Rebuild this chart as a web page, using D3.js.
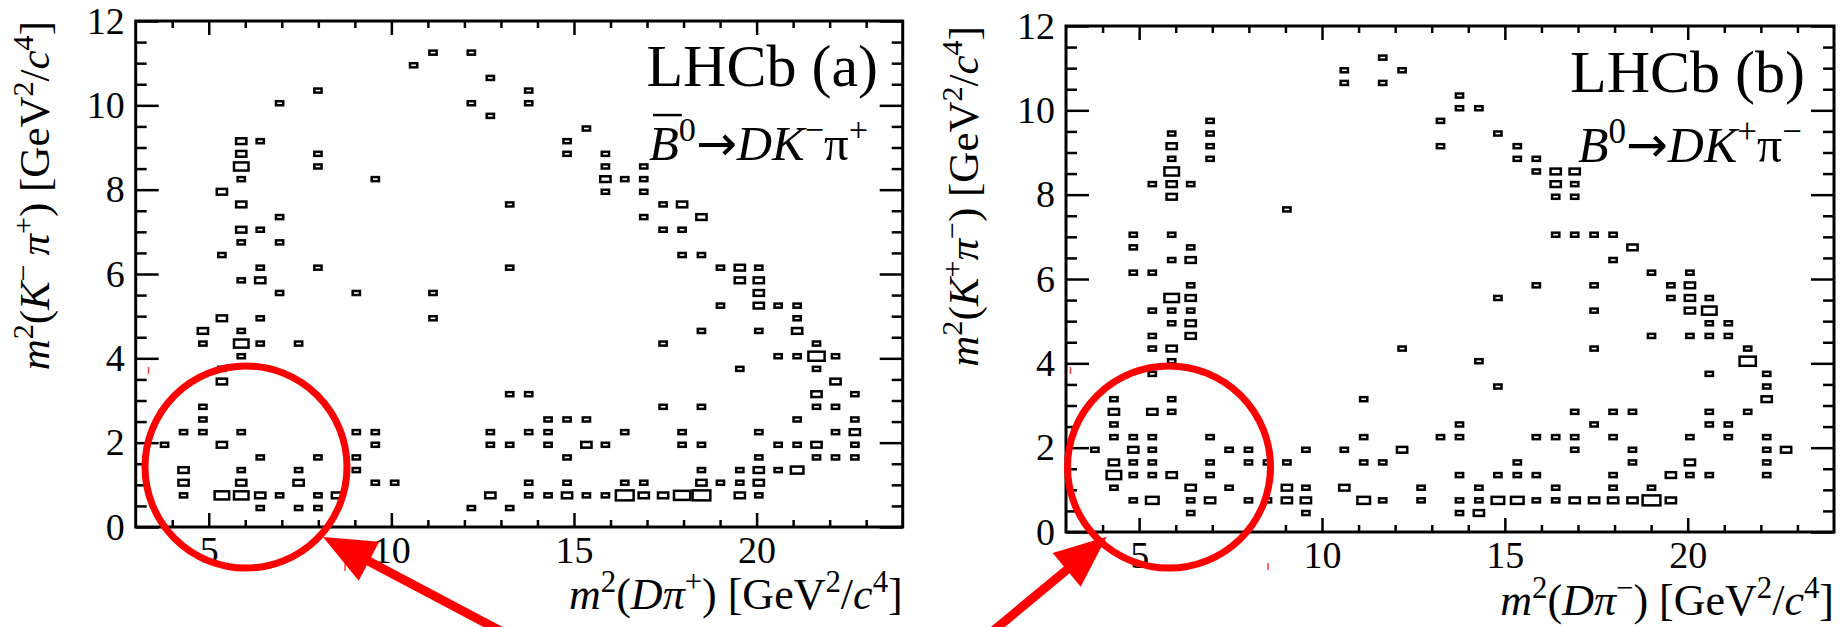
<!DOCTYPE html>
<html>
<head>
<meta charset="utf-8">
<script src="https://cdn.jsdelivr.net/npm/d3@7"></script>
<style>
  body { margin: 0; background: #fff; }
  text { font-family: "Liberation Serif", "Times New Roman", serif; fill: #000; }
</style>
</head>
<body>
<div id="chart"></div>
<script>
// axis ticks
var xTicks = [5, 10, 15, 20];
var yTicks = [0, 2, 4, 6, 8, 10, 12];
var xDomain = [3, 24];
var yDomain = [0, 12];
var binW = 0.525, binH = 0.3;   // 40 x 40 bins
var maxEntries = 7;

// Dalitz plot bins: [m2(Dpi), m2(Kpi), entries]
var binsA = [
  [10.61,10.95,1],[11.14,11.25,1],[12.19,11.25,1],[12.71,10.65,1],[12.19,10.05,1],[12.71,9.75,1],
  [13.76,10.35,1],[13.76,10.05,1],[15.34,9.45,1],[14.81,9.15,1],[14.81,8.85,1],[15.86,8.85,1],
  [15.86,8.55,1],[15.86,8.25,2],[15.86,7.95,1],
  [6.94,10.05,1],[7.99,10.35,1],[5.89,9.15,2],[6.41,9.15,1],[5.89,8.85,2],[5.89,8.55,4],[5.89,8.25,1],
  [5.36,7.95,2],[5.89,7.65,2],[6.94,7.35,1],[5.89,7.05,2],[6.41,7.05,1],[5.89,6.75,1],[6.94,6.75,1],
  [5.36,6.45,1],[6.41,6.15,1],[5.89,5.85,1],[6.41,5.85,2],[6.94,5.55,1],[7.99,8.85,1],[7.99,8.55,1],
  [9.56,8.25,1],[7.99,6.15,1],[9.04,5.55,1],[11.14,5.55,1],[13.24,7.65,1],[13.24,6.15,1],
  [5.36,4.95,2],[6.41,4.95,1],[11.14,4.95,1],[4.84,4.65,2],[5.89,4.65,1],[4.84,4.35,1],[5.89,4.35,4],
  [6.41,4.35,1],[7.46,4.35,1],[5.89,4.05,1],[5.36,3.75,1],[5.36,3.45,2],[13.24,3.15,1],[13.76,3.15,1],
  [4.84,2.85,1],[4.84,2.55,1],[14.29,2.55,1],[14.81,2.55,1],[15.34,2.55,1],
  [4.31,2.25,1],[4.84,2.25,1],[5.89,2.25,1],[9.04,2.25,1],[9.56,2.25,1],[12.71,2.25,1],[13.76,2.25,1],[14.29,2.25,1],
  [3.79,1.95,1],[5.36,1.95,2],[9.56,1.95,1],[12.71,1.95,1],[13.24,1.95,1],[14.29,1.95,1],[15.34,1.95,2],[15.86,1.95,1],
  [6.41,1.65,1],[7.99,1.65,1],[9.04,1.65,1],[14.81,1.65,1],
  [4.31,1.35,2],[5.89,1.35,1],[7.46,1.35,1],[9.04,1.35,1],
  [4.31,1.05,2],[5.89,1.05,2],[7.46,1.05,2],[9.56,1.05,1],[10.09,1.05,1],[13.76,1.05,1],[14.81,1.05,1],
  [4.31,0.75,1],[5.36,0.75,4],[5.89,0.75,4],[6.41,0.75,2],[6.94,0.75,1],[7.99,0.75,1],[8.51,0.75,2],
  [12.71,0.75,2],[13.76,0.75,1],[14.29,0.75,1],[14.81,0.75,2],[15.34,0.75,1],[15.86,0.75,1],
  [6.41,0.45,1],[7.46,0.45,1],[7.99,0.45,1],[12.19,0.45,1],[13.24,0.45,1],
  [16.39,8.25,1],[16.91,8.55,1],[16.91,8.25,1],[16.91,7.95,1],[16.91,7.35,1],[17.44,7.65,1],[17.96,7.65,2],
  [18.49,7.35,2],[17.44,7.05,1],[17.96,7.05,1],[17.96,6.45,1],[18.49,6.45,1],[19.01,6.15,1],[19.54,6.15,2],
  [20.06,6.15,1],[19.54,5.85,2],[20.06,5.85,2],[20.06,5.55,2],[19.01,5.25,1],[20.06,5.25,2],[20.59,5.25,1],
  [21.11,5.25,1],[21.11,4.95,1],[21.11,4.65,2],[18.49,4.65,1],[20.06,4.65,1],[17.44,4.35,1],[21.64,4.35,1],
  [20.59,4.05,1],[21.11,4.05,1],[21.64,4.05,5],[22.16,4.05,1],[19.54,3.75,1],[21.64,3.75,1],[22.16,3.45,2],
  [21.64,3.15,2],[22.69,3.15,1],[17.44,2.85,1],[18.49,2.85,1],[21.64,2.85,1],[22.16,2.85,1],[21.11,2.55,1],
  [22.69,2.55,1],[16.39,2.25,1],[17.96,2.25,1],[20.06,2.25,1],[22.16,2.25,1],[22.69,2.25,2],[17.96,1.95,1],
  [18.49,1.95,1],[20.59,1.95,1],[21.11,1.95,1],[21.64,1.95,2],[22.69,1.95,1],[20.06,1.65,1],[21.64,1.65,1],
  [22.16,1.65,1],[22.69,1.65,1],[18.49,1.35,1],[19.54,1.35,1],[20.06,1.35,2],[20.59,1.35,1],[21.11,1.35,3],
  [16.39,1.05,1],[16.91,1.05,1],[18.49,1.05,2],[19.01,1.05,1],[19.54,1.05,1],[20.06,1.05,2],
  [16.39,0.75,6],[16.91,0.75,2],[17.44,0.75,2],[17.96,0.75,5],[18.49,0.75,6],[19.54,0.75,2],[20.06,0.75,1]
];

var binsB = [
  [10.61,10.95,1],[10.61,10.65,1],[11.66,11.25,1],[11.66,10.65,1],[12.19,10.95,1],[13.76,10.35,1],
  [13.76,10.05,1],[14.29,10.05,1],[13.24,9.75,1],[13.24,9.15,1],[14.81,9.45,1],[15.34,9.15,1],
  [15.34,8.85,1],[15.86,8.85,1],[15.86,8.55,1],[16.39,8.55,2],[16.39,8.25,2],[16.39,7.95,1],
  [16.39,7.05,1],[15.86,5.85,1],[14.81,5.55,1],[9.04,7.65,1],
  [6.94,9.75,1],[6.94,9.45,1],[6.94,9.15,1],[6.94,8.85,1],[5.89,9.45,1],[5.89,9.15,2],[5.89,8.85,1],
  [5.89,8.55,4],[5.89,8.25,2],[5.89,7.95,2],[5.36,8.25,1],[6.41,8.25,1],[4.84,7.05,1],[4.84,6.75,1],
  [4.84,6.15,1],[5.36,6.15,1],[5.89,7.05,1],[5.89,6.45,1],[6.41,6.75,1],[6.41,6.45,2],[6.41,5.85,1],
  [5.89,5.55,4],[6.41,5.55,2],[5.36,5.25,1],[5.89,5.25,1],[6.41,5.25,1],
  [5.89,4.95,1],[6.41,4.95,2],[5.36,4.65,1],[6.41,4.65,2],[5.36,4.35,1],[5.89,4.35,2],[5.89,4.05,1],
  [5.36,3.75,1],[12.19,4.35,1],[14.29,4.05,1],[14.81,3.45,1],[4.31,3.15,1],[5.89,3.15,1],[4.31,2.85,2],
  [5.36,2.85,2],[5.89,2.85,1],[11.14,3.15,1],[4.31,2.55,1],[13.76,2.55,1],
  [4.31,2.25,1],[4.84,2.25,1],[5.36,2.25,1],[6.94,2.25,1],[11.14,2.25,1],[13.24,2.25,1],[13.76,2.25,1],
  [15.86,2.25,1],[16.39,2.25,1],
  [3.79,1.95,1],[4.84,1.95,2],[5.36,1.95,1],[7.46,1.95,1],[7.99,1.95,1],[9.56,1.95,1],[10.61,1.95,1],[12.19,1.95,2],
  [4.31,1.65,2],[4.84,1.65,1],[5.36,1.65,1],[6.94,1.65,1],[7.99,1.65,1],[8.51,1.65,1],[9.04,1.65,1],
  [11.14,1.65,1],[11.66,1.65,1],[15.34,1.65,1],
  [4.31,1.35,4],[4.84,1.35,1],[5.36,1.35,1],[5.89,1.35,2],[6.94,1.35,1],[13.76,1.35,1],[14.81,1.35,1],
  [15.34,1.35,1],[15.86,1.35,1],
  [4.31,1.05,1],[6.41,1.05,2],[7.46,1.05,1],[9.04,1.05,2],[9.56,1.05,1],[10.61,1.05,2],[12.71,1.05,1],
  [14.29,1.05,1],[16.39,1.05,1],
  [4.84,0.75,1],[5.36,0.75,3],[6.41,0.75,1],[6.94,0.75,2],[7.99,0.75,1],[8.51,0.75,1],[9.04,0.75,2],
  [9.56,0.75,2],[11.14,0.75,3],[11.66,0.75,1],[12.71,0.75,1],[13.76,0.75,1],[14.29,0.75,1],[14.81,0.75,3],
  [15.34,0.75,3],[15.86,0.75,1],[16.39,0.75,1],
  [6.41,0.45,1],[9.56,0.45,1],[13.76,0.45,1],[14.29,0.45,2],
  [16.91,8.55,2],[16.91,8.25,1],[16.91,7.95,1],[16.91,7.05,1],[17.44,7.05,1],[17.96,7.05,1],[18.49,6.75,2],
  [17.96,6.45,1],[19.01,6.15,1],[20.06,6.15,1],[17.44,5.85,1],[19.54,5.85,1],[20.06,5.85,2],[19.54,5.55,1],
  [20.06,5.55,2],[20.59,5.55,1],[20.06,5.25,2],[20.59,5.25,4],[20.59,4.95,1],[21.11,4.95,1],[17.44,5.25,1],
  [19.01,4.65,1],[20.06,4.65,1],[20.59,4.65,1],[21.11,4.65,1],[17.44,4.35,1],[21.64,4.35,1],[21.64,4.05,5],
  [20.59,3.75,1],[22.16,3.75,1],[22.16,3.45,1],[22.16,3.15,2],
  [16.91,2.85,1],[17.96,2.85,1],[18.49,2.85,1],[20.59,2.85,1],[21.64,2.85,1],[17.44,2.55,1],[20.59,2.55,1],
  [21.11,2.55,1],[16.91,2.25,1],[17.96,2.25,1],[20.06,2.25,1],[21.11,2.25,1],[22.16,2.25,1],[16.91,1.95,1],
  [18.49,1.95,1],[22.16,1.95,1],[22.69,1.95,2],[18.49,1.65,1],[20.06,1.65,2],[22.16,1.65,1],[17.96,1.35,1],
  [19.54,1.35,2],[20.06,1.35,1],[20.59,1.35,1],[22.16,1.35,1],[17.96,1.05,1],[19.01,1.05,1],
  [16.91,0.75,2],[17.44,0.75,2],[17.96,0.75,2],[18.49,0.75,2],[19.01,0.75,6],[19.54,0.75,2]
];

// rich text pieces: [text, style]  i = italic, s = superscript, a = arrow, "" = upright
var xTitleA = [["m","i"],["2","s"],["(",""],["D","i"],["π","i"],["+","s"],[") [GeV",""],["2","s"],["/",""],["c","i"],["4","s"],["]",""]];
var xTitleB = [["m","i"],["2","s"],["(",""],["D","i"],["π","i"],["−","s"],[") [GeV",""],["2","s"],["/",""],["c","i"],["4","s"],["]",""]];
var yTitleA = [["m","i"],["2","s"],["(",""],["K","i"],["−","s"],["\u2009π","i"],["+","s"],[") [GeV",""],["2","s"],["/",""],["c","i"],["4","s"],["]",""]];
var yTitleB = [["m","i"],["2","s"],["(",""],["K","i"],["+","s"],["π","i"],["−","s"],[") [GeV",""],["2","s"],["/",""],["c","i"],["4","s"],["]",""]];
var decayA = [["B","i"],["0","s"],["→","a"],["D","i"],["K","i"],["−","s"],["π",""],["+","s"]];
var decayB = [["B","i"],["0","s"],["→","a"],["D","i"],["K","i"],["+","s"],["π",""],["−","s"]];

var svg = d3.select("#chart").append("svg")
    .attr("width", 1845)
    .attr("height", 627);

// write pieces into a text element, superscripts shifted up
function richText(sel, parts, fs) {
  var shift = fs * 0.38, up = false;
  parts.forEach(function(p) {
    var t = sel.append("tspan").text(p[0]);
    if (p[1] == "i") t.attr("font-style", "italic");
    if (p[1] == "a") t.style("font-family", "DejaVu Sans");
    if (p[1] == "s") {
      t.attr("font-size", fs * 0.7);
      if (!up) { t.attr("dy", -shift); up = true; }
    } else if (up) {
      t.attr("dy", shift); up = false;
    }
  });
  return sel;
}

function drawPanel(p) {
  var x = d3.scaleLinear().domain(xDomain).range([p.left, p.right]);
  var y = d3.scaleLinear().domain(yDomain).range([p.bottom, p.top]);
  // box side grows with sqrt of entries (area ~ entries)
  var size = d3.scaleSqrt().domain([0, maxEntries]).range([0, 1]);
  var cellW = x(xDomain[0] + binW) - x(xDomain[0]);
  var cellH = (y(0) - y(binH)) * 0.85;

  var g = svg.append("g");

  // boxes
  g.append("g").selectAll("rect")
    .data(p.bins)
    .enter()
    .append("rect")
      .attr("x", function(d) { return x(d[0]) - cellW * size(d[2]) / 2; })
      .attr("y", function(d) { return y(d[1]) - cellH * size(d[2]) / 2; })
      .attr("width", function(d) { return cellW * size(d[2]); })
      .attr("height", function(d) { return cellH * size(d[2]); })
      .style("fill", "none")
      .style("stroke", "#000")
      .style("stroke-width", 2.5);

  var minorX = d3.range(4, 24, 1).filter(function(v) { return v % 5 != 0; });
  var minorY = d3.range(0.5, 12, 0.5).filter(function(v) { return v % 2 != 0; });

  function styleAxis(a) {
    a.attr("font-family", "Liberation Serif").attr("font-size", 38);
    a.select(".domain").remove();
    a.selectAll("line").style("stroke", "#000").style("stroke-width", 2.5);
    a.selectAll("text")
      .style("font-family", "Liberation Serif")
      .style("font-size", "38px")
      .style("fill", "#000");
  }

  // bottom and top ticks (inward)
  g.append("g").attr("transform", "translate(0," + p.bottom + ")")
    .call(d3.axisBottom(x).tickValues(xTicks).tickSize(-14).tickPadding(9).tickFormat(d3.format("d")))
    .call(styleAxis);
  g.append("g").attr("transform", "translate(0," + p.bottom + ")")
    .call(d3.axisBottom(x).tickValues(minorX).tickSize(-7).tickFormat(""))
    .call(styleAxis);
  g.append("g").attr("transform", "translate(0," + p.top + ")")
    .call(d3.axisTop(x).tickValues(xTicks).tickSize(-14).tickFormat(""))
    .call(styleAxis);
  g.append("g").attr("transform", "translate(0," + p.top + ")")
    .call(d3.axisTop(x).tickValues(minorX).tickSize(-7).tickFormat(""))
    .call(styleAxis);

  // left and right ticks
  g.append("g").attr("transform", "translate(" + p.left + ",0)")
    .call(d3.axisLeft(y).tickValues(yTicks).tickSize(-23).tickPadding(11).tickFormat(d3.format("d")))
    .call(styleAxis);
  g.append("g").attr("transform", "translate(" + p.left + ",0)")
    .call(d3.axisLeft(y).tickValues(minorY).tickSize(-11).tickFormat(""))
    .call(styleAxis);
  g.append("g").attr("transform", "translate(" + p.right + ",0)")
    .call(d3.axisRight(y).tickValues(yTicks).tickSize(-23).tickFormat(""))
    .call(styleAxis);
  g.append("g").attr("transform", "translate(" + p.right + ",0)")
    .call(d3.axisRight(y).tickValues(minorY).tickSize(-11).tickFormat(""))
    .call(styleAxis);

  // frame
  g.append("rect")
    .attr("x", p.left).attr("y", p.top)
    .attr("width", p.right - p.left).attr("height", p.bottom - p.top)
    .style("fill", "none").style("stroke", "#000").style("stroke-width", 3);

  // axis titles
  richText(g.append("text")
      .attr("x", p.right).attr("y", p.xTitleY)
      .attr("text-anchor", "end")
      .style("font-size", "44px"), p.xTitle, 44);

  richText(g.append("text")
      .attr("transform", "translate(" + p.yTitleX + "," + p.top + ") rotate(-90)")
      .attr("text-anchor", "end")
      .style("font-size", "43px"), p.yTitle, 43);

  // LHCb label
  g.append("text")
    .attr("x", p.labelX).attr("y", p.labelY)
    .attr("text-anchor", "end")
    .style("font-size", "60px")
    .text(p.label);

  // decay, fitted between its left and right edge
  var fs = 44;
  var dec = richText(g.append("text")
      .attr("x", p.decayX[0]).attr("y", p.decayY)
      .style("font-size", fs + "px"), p.decay, fs);
  var w = dec.node().getComputedTextLength();
  fs = fs * (p.decayX[1] - p.decayX[0]) / w;
  dec.selectAll("tspan").remove();
  dec.style("font-size", fs + "px");
  richText(dec, p.decay, fs);

  if (p.bar) {
    var n = dec.node();
    var s = n.getStartPositionOfChar(0), e = n.getEndPositionOfChar(0);
    g.append("line")
      .attr("x1", s.x + 4).attr("x2", e.x + 3)
      .attr("y1", p.decayY - fs * 0.92).attr("y2", p.decayY - fs * 0.92)
      .style("stroke", "#000").style("stroke-width", 2.5);
  }

  // small red marks from the original figure
  p.marks.forEach(function(m) {
    g.append("line")
      .attr("x1", m[0]).attr("x2", m[0]).attr("y1", m[1]).attr("y2", m[1] + 7)
      .style("stroke", "#ff4040").style("stroke-width", 1.5);
  });

  // red circle
  g.append("ellipse")
    .attr("cx", p.circle[0]).attr("cy", p.circle[1])
    .attr("rx", p.circle[2]).attr("ry", p.circle[3])
    .style("fill", "none").style("stroke", "#ff0000").style("stroke-width", 7);

  // red arrow
  var tip = p.arrow[0], tail = p.arrow[1];
  var dx = tip[0] - tail[0], dy = tip[1] - tail[1];
  var len = Math.sqrt(dx * dx + dy * dy);
  var ux = dx / len, uy = dy / len;
  var L = 52, W = 22;
  var bx = tip[0] - ux * L, by = tip[1] - uy * L;
  g.append("line")
    .attr("x1", tail[0]).attr("y1", tail[1])
    .attr("x2", bx + ux * 4).attr("y2", by + uy * 4)
    .style("stroke", "#ff0000").style("stroke-width", 9);
  g.append("path")
    .attr("d", "M" + tip[0] + "," + tip[1] +
               "L" + (bx - uy * W) + "," + (by + ux * W) +
               "L" + (bx + uy * W) + "," + (by - ux * W) + "Z")
    .style("fill", "#ff0000");
}

drawPanel({
  left: 135.7, right: 902.7, top: 21, bottom: 527,
  bins: binsA,
  xTitle: xTitleA, xTitleY: 609,
  yTitle: yTitleA, yTitleX: 49,
  label: "LHCb (a)", labelX: 878, labelY: 86,
  decay: decayA, decayX: [649, 868], decayY: 160, bar: true,
  marks: [[148.5, 367], [345, 564]],
  circle: [246, 467, 101, 101],
  arrow: [[323, 537], [512, 637]]
});

drawPanel({
  left: 1066, right: 1834, top: 26, bottom: 532,
  bins: binsB,
  xTitle: xTitleB, xTitleY: 615,
  yTitle: yTitleB, yTitleX: 978,
  label: "LHCb (b)", labelX: 1805, labelY: 92,
  decay: decayB, decayX: [1578, 1802], decayY: 162, bar: false,
  marks: [[1070.5, 367], [1268, 563]],
  circle: [1169, 467, 101.5, 101],
  arrow: [[1106.7, 536.7], [987, 636]]
});
</script>
</body>
</html>
